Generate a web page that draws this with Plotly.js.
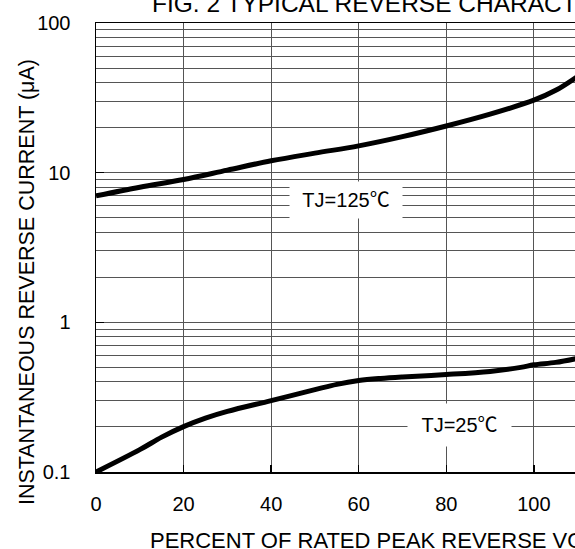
<!DOCTYPE html>
<html>
<head>
<meta charset="utf-8">
<script src="https://cdn.plot.ly/plotly-3.0.1.min.js"></script>
<style>
html,body{margin:0;padding:0;overflow:hidden;background:#fff;}
#chart{width:575px;height:549px;}
</style>
</head>
<body>
<div id="chart"></div>
<script>
// Data
const voltage125 = [0, 10, 20, 30, 40, 50, 60, 70, 80, 90, 100, 105, 110];
const current125 = [7.0, 8.0, 9.0, 10.4, 12.0, 13.5, 15.1, 17.4, 20.5, 24.6, 30.5, 35.5, 44];
const voltage25 = [0, 10, 15, 20, 25, 30, 40, 50, 55, 60, 65, 70, 80, 90, 97, 100, 105, 110];
const current25 = [0.1, 0.141, 0.171, 0.201, 0.229, 0.254, 0.30, 0.355, 0.385, 0.408, 0.422, 0.432, 0.448, 0.47, 0.50, 0.52, 0.54, 0.575];
const xTicks = [0, 20, 40, 60, 80, 100];
const yTicks = [0.1, 1, 10, 100];
const yTickText = ["0.1", "1", "10", "100"];
const labels = ["TJ=125\u2103", "TJ=25\u2103"];
const titleText = "FIG. 2 TYPICAL REVERSE CHARACTERISTICS";
const xTitle = "PERCENT OF RATED PEAK REVERSE VOLTAGE (%)";
const yTitle = "INSTANTANEOUS REVERSE CURRENT (\u03bcA)";

const FONT = 'Arial, "Liberation Sans", "Noto Sans CJK SC", sans-serif';

const minorY = [];
[0.1, 1, 10].forEach(d => { for (let k = 2; k <= 9; k++) minorY.push(+(d * k).toPrecision(3)); });

const traces = [
  {x: voltage125, y: current125, mode: 'lines', line: {color: '#000', width: 5, shape: 'spline', smoothing: 1}, hoverinfo: 'skip'},
  {x: voltage25, y: current25, mode: 'lines', line: {color: '#000', width: 5, shape: 'spline', smoothing: 1}, hoverinfo: 'skip'}
];

const layout = {
  width: 575, height: 549,
  margin: {l: 96, r: 0, t: 23, b: 77},
  paper_bgcolor: '#fff', plot_bgcolor: '#fff',
  showlegend: false,
  font: {family: FONT, size: 20, color: '#000'},
  xaxis: {
    range: [0, 109.4], tickvals: xTicks, ticktext: xTicks.map(String),
    showgrid: true, gridcolor: '#555', gridwidth: 1,
    zeroline: false, showline: true, linecolor: '#000', linewidth: 1.5, mirror: true,
    ticks: 'inside', ticklen: 7, tickcolor: '#000', tickwidth: 1.5,
    ticklabelstandoff: 13,
    tickfont: {family: FONT, size: 20, color: '#000'}
  },
  yaxis: {
    type: 'log', range: [-1, 2], tickvals: yTicks, ticktext: yTickText,
    showgrid: true, gridcolor: '#555', gridwidth: 1,
    minor: {tickvals: minorY, showgrid: true, gridcolor: '#555', gridwidth: 1, ticks: ''},
    zeroline: false, showline: true, linecolor: '#000', linewidth: 1.5, mirror: false,
    ticks: 'inside', ticklen: 8, tickcolor: '#000', tickwidth: 1.5,
    ticklabelstandoff: 20,
    tickfont: {family: FONT, size: 20, color: '#000'}
  },
  annotations: [
    {text: titleText, xref: 'paper', yref: 'paper', x: 0.1127, y: 1.0437, xanchor: 'left', yanchor: 'middle', showarrow: false, font: {family: FONT, size: 24.5, color: '#000'}},
    {text: xTitle, xref: 'paper', yref: 'paper', x: 0.1086, y: -0.152, xanchor: 'left', yanchor: 'middle', showarrow: false, font: {family: FONT, size: 22, color: '#000'}},
    {text: yTitle, xref: 'paper', yref: 'paper', x: -0.144, y: 0.423, xanchor: 'center', yanchor: 'middle', textangle: -90, showarrow: false, font: {family: FONT, size: 21.5, color: '#000'}},
    {text: labels[0], xref: 'x', yref: 'y', x: 57.1, y: 0.818, xanchor: 'center', yanchor: 'middle', showarrow: false, bgcolor: '#fff', width: 108, height: 32, borderpad: 2, font: {family: FONT, size: 20, color: '#000'}},
    {text: labels[1], xref: 'x', yref: 'y', x: 83.1, y: -0.689, xanchor: 'center', yanchor: 'middle', showarrow: false, bgcolor: '#fff', width: 99, height: 38, borderpad: 2, font: {family: FONT, size: 20, color: '#000'}}
  ]
};

Plotly.newPlot('chart', traces, layout, {staticPlot: true, displayModeBar: false});
</script>
</body>
</html>
